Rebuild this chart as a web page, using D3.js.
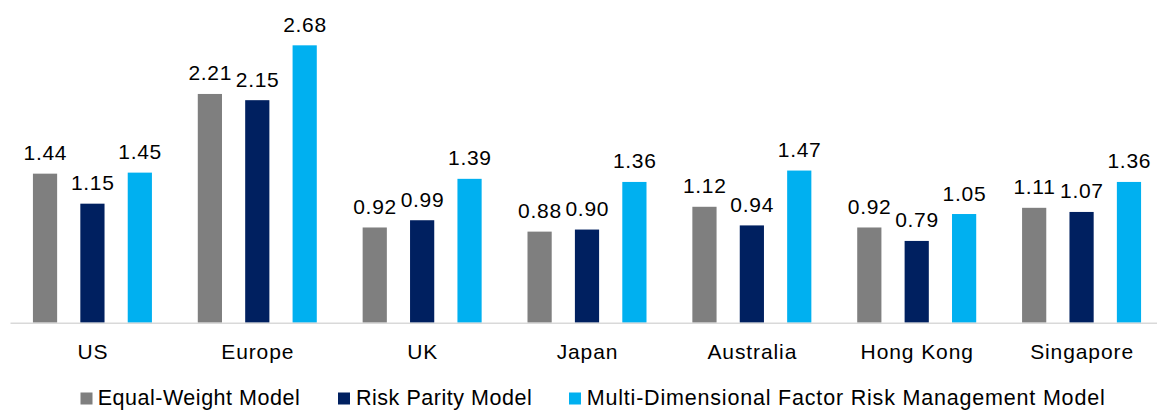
<!DOCTYPE html>
<html><head><meta charset="utf-8">
<script src="https://cdn.jsdelivr.net/npm/d3@7"></script>
<style>body{margin:0;background:#fff}svg{display:block;font-family:"Liberation Sans",Arial,sans-serif}</style>
</head><body><svg id="c" width="1157" height="412"></svg>
<script>
const categories = ["US","Europe","UK","Japan","Australia","Hong Kong","Singapore"];
const seriesNames = ["Equal-Weight Model","Risk Parity Model","Multi-Dimensional Factor Risk Management Model"];
const equalWeight = [1.44,2.21,0.92,0.88,1.12,0.92,1.11];
const riskParity = [1.15,2.15,0.99,0.90,0.94,0.79,1.07];
const multiDim = [1.45,2.68,1.39,1.36,1.47,1.05,1.36];
const colors = ["#7f7f7f","#002060","#00b0f0"];
const series = [equalWeight, riskParity, multiDim];

const svg = d3.select("#c");
const x = d3.scaleBand().domain(categories).range([10, 1164]).paddingInner(0).paddingOuter(0);
const x1 = d3.scaleBand().domain(d3.range(3)).range([x.bandwidth()/2 - 59.5, x.bandwidth()/2 + 59.5]).paddingInner(23/47).paddingOuter(0);
const y = d3.scaleLinear().domain([0,3]).range([322.7, 322.7 - 310.5]);

const g = svg.append("g");
categories.forEach((c,i)=>{
  const gg = g.append("g").attr("transform",`translate(${x(c)},0)`);
  series.forEach((s,j)=>{
    gg.append("rect").attr("x",x1(j)).attr("width",x1.bandwidth())
      .attr("y",y(s[i])).attr("height",y(0)-y(s[i])).attr("fill",colors[j]);
    gg.append("text").attr("x",x1(j)+x1.bandwidth()/2+0.35).attr("y",y(s[i])-13.5)
      .attr("text-anchor","middle").attr("font-size",21).attr("letter-spacing",0.7)
      .attr("fill","#000").text(s[i].toFixed(2));
  });
});
const axis = d3.axisBottom(x).tickSize(0).tickPadding(0);
const ax = svg.append("g").attr("transform",`translate(0,${y(0)})`).call(axis);
ax.select(".domain").attr("stroke","#d9d9d9").attr("stroke-width",1.5);
ax.selectAll("text").attr("font-size",21).attr("letter-spacing",0.9).attr("fill","#000")
  .attr("dy",0).attr("y",36.6).attr("x",0.5).attr("font-family","'Liberation Sans',Arial,sans-serif");

const legX = [80.5, 338, 569];
const legTextX = [97.7, 356, 586.7];
const legW = [202, 175.7, 518];
const leg = svg.append("g");
seriesNames.forEach((n,j)=>{
  leg.append("rect").attr("x",legX[j]).attr("y",392.5).attr("width",12).attr("height",12).attr("fill",colors[j]);
  leg.append("text").attr("x",legTextX[j]).attr("y",405.3).attr("font-size",21.5).attr("fill","#000")
    .attr("textLength",legW[j]).attr("lengthAdjust","spacing").text(n);
});
</script></body></html>
